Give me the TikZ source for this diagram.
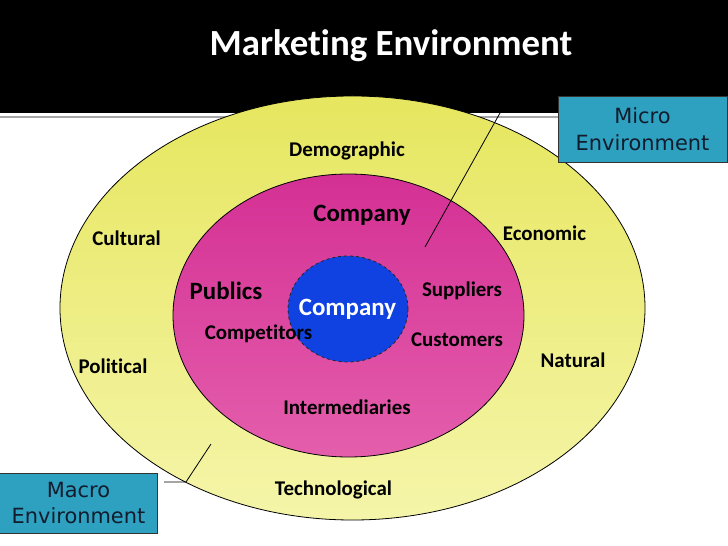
\documentclass[tikz,border=0pt]{standalone}
\usepackage{fontspec}
\setmainfont{Carlito}[Ligatures=NoCommon]
\newfontfamily\boxfont{DejaVu Sans}
\usetikzlibrary{shapes.geometric}

\definecolor{macrotop}{RGB}{230,230,95}
\definecolor{macrobot}{RGB}{245,245,170}
\definecolor{microtop}{RGB}{212,48,148}
\definecolor{microbot}{RGB}{228,94,172}
\definecolor{coreblue}{RGB}{16,66,226}
\definecolor{boxblue}{RGB}{46,160,192}
\definecolor{boxtext}{RGB}{18,28,44}

\begin{document}
\begin{tikzpicture}[x=1bp, y=-1bp,
    force/.style={font=\fontsize{21}{24}\selectfont\bfseries, anchor=base, inner sep=0pt},
    actor/.style={force, font=\fontsize{25}{28}\selectfont\bfseries},
    envbox/.style={draw=black!80, fill=boxblue, text=boxtext, align=center,
        font=\boxfont\fontsize{21}{27}\selectfont, inner sep=0pt}]
    % Okvir slike (pikseli, y prema dolje)
    \useasboundingbox (0,0) rectangle (728,546);
    \fill[white] (0,0) rectangle (728,546);

    % Naslovna traka
    \fill[black] (0,0) rectangle (728,113);
    \draw[black!35, line width=1.5bp] (0,117) -- (728,117);
    \node[font=\fontsize{37}{40}\selectfont\bfseries, text=white, anchor=base] (title) at (391,56) {Marketing Environment};

    % Makro okruzenje (vanjska elipsa)
    \node[ellipse, draw, line width=0.8bp, top color=macrotop, bottom color=macrobot,
        minimum width=585bp, minimum height=424bp, inner sep=0pt] (macro) at (352.5,308) {};
    % Mikro okruzenje (unutarnja elipsa)
    \node[ellipse, draw, line width=0.8bp, top color=microtop, bottom color=microbot,
        minimum width=351bp, minimum height=283bp, inner sep=0pt] (micro) at (348.5,315.5) {};
    % Poduzece
    \node[ellipse, draw=black!85, dashed, line width=0.8bp, fill=coreblue,
        minimum width=120bp, minimum height=106bp, inner sep=0pt] (core) at (348,309) {};

    % Faktori makro okruzenja
    \node[force] (demographic) at (347,157) {Demographic};
    \node[force] (cultural) at (126.5,246) {Cultural};
    \node[force] (economic) at (544.5,241) {Economic};
    \node[force] (political) at (113,373) {Political};
    \node[force] (natural) at (573,367) {Natural};
    \node[force] (technological) at (333.5,495) {Technological};

    % Sudionici mikro okruzenja
    \node[actor] (company) at (362,222) {Company};
    \node[actor] (publics) at (226,299) {Publics};
    \node[force] (suppliers) at (462,296) {Suppliers};
    \node[force] (competitors) at (258.5,339) {Competitors};
    \node[force] (customers) at (457,346) {Customers};
    \node[force] (intermediaries) at (347,414) {Intermediaries};
    \node[actor, text=white] (corename) at (347.5,315) {Company};

    % Oznake okruzenja
    \node[envbox, minimum width=169bp, minimum height=66bp] (microbox) at (642.5,129) {Micro\\Environment};
    \node[envbox, minimum width=158bp, minimum height=60bp] (macrobox) at (78.5,503) {Macro\\Environment};

    % Pokazne linije
    \coordinate (microtip) at (500,113);
    \coordinate (microend) at (425,247);
    \draw[line width=0.8bp] (microtip) -- (microend);
    \coordinate (macrohook) at (164,482);
    \coordinate (macrorim) at (186,482);
    \coordinate (macroend) at (211,444);
    \draw[line width=0.8bp] (macrohook) -- (macrorim) -- (macroend);
\end{tikzpicture}
\end{document}
